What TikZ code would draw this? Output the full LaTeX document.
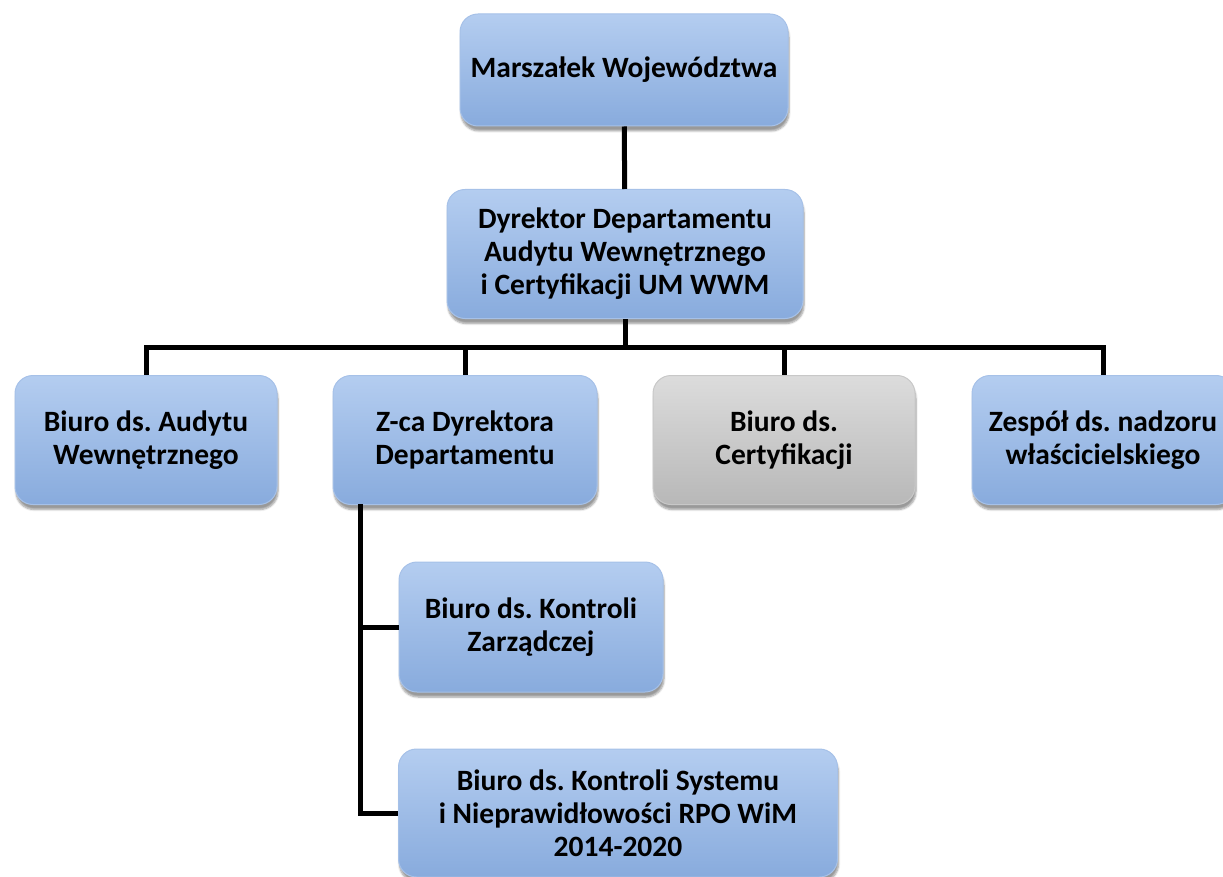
\documentclass[tikz,border=0pt]{standalone}
\usepackage{fontspec}
\setmainfont{Carlito}
\frenchspacing
\usetikzlibrary{shadows.blur}
\definecolor{boxtop}{HTML}{B4CDF0}
\definecolor{boxbot}{HTML}{88ABDD}
\definecolor{boxedge}{HTML}{A6C1E8}
\definecolor{greytop}{HTML}{DCDCDC}
\definecolor{greybot}{HTML}{B8B8B8}
\definecolor{greyedge}{HTML}{C8C8C8}
\tikzset{
	unit/.style={rounded corners=18pt, align=center, inner sep=0pt,
		font=\fontsize{29.5}{33}\selectfont\bfseries,
		top color=boxtop, bottom color=boxbot, draw=boxedge, line width=1pt,
		blur shadow={shadow xshift=1pt, shadow yshift=-5pt, shadow opacity=40, shadow blur steps=6}},
	greyunit/.style={unit, top color=greytop, bottom color=greybot, draw=greyedge},
	link/.style={line width=5pt, line join=miter}
}
\begin{document}
\begin{tikzpicture}[x=1pt,y=-1pt]
		\useasboundingbox (0,0) rectangle (1223,877);
		% levels
		\node[unit, minimum width=328pt, minimum height=112pt] (marsz) at (624,70) {Marszałek Województwa};
		\node[unit, minimum width=356pt, minimum height=129pt] (dyr) at (625,254) {Dyrektor Departamentu\\Audytu Wewnętrznego\\i Certyfikacji UM WWM};
		\node[unit, minimum width=262pt, minimum height=129pt] (audyt) at (146,440) {Biuro ds. Audytu\\Wewnętrznego};
		\node[unit, minimum width=264pt, minimum height=129pt] (zca) at (465,440) {Z-ca Dyrektora\\Departamentu};
		\node[greyunit, minimum width=262pt, minimum height=129pt] (cert) at (784,440) {Biuro ds.\\Certyfikacji};
		\node[unit, minimum width=262pt, minimum height=129pt] (zesp) at (1103,440) {Zespół ds. nadzoru\\właścicielskiego};
		\node[unit, minimum width=264pt, minimum height=130pt] (kz) at (531,627) {Biuro ds. Kontroli\\Zarządczej};
		\node[unit, minimum width=439pt, minimum height=128pt] (ks) at (618,813) {Biuro ds. Kontroli Systemu\\i Nieprawidłowości RPO WiM\\2014-2020};
		% links
		\coordinate (hub) at (625,347);
		\coordinate (zfoot) at (360,504);
		\draw[link] (marsz) -- (dyr);
		\draw[link] (dyr) -- (hub);
		\foreach \n in {audyt,zca,cert,zesp}
			\draw[link] (hub) -| (\n.north);
		\draw[link] (zfoot) |- (kz.west);
		\draw[link] (zfoot) |- (ks.west);
\end{tikzpicture}
\end{document}
